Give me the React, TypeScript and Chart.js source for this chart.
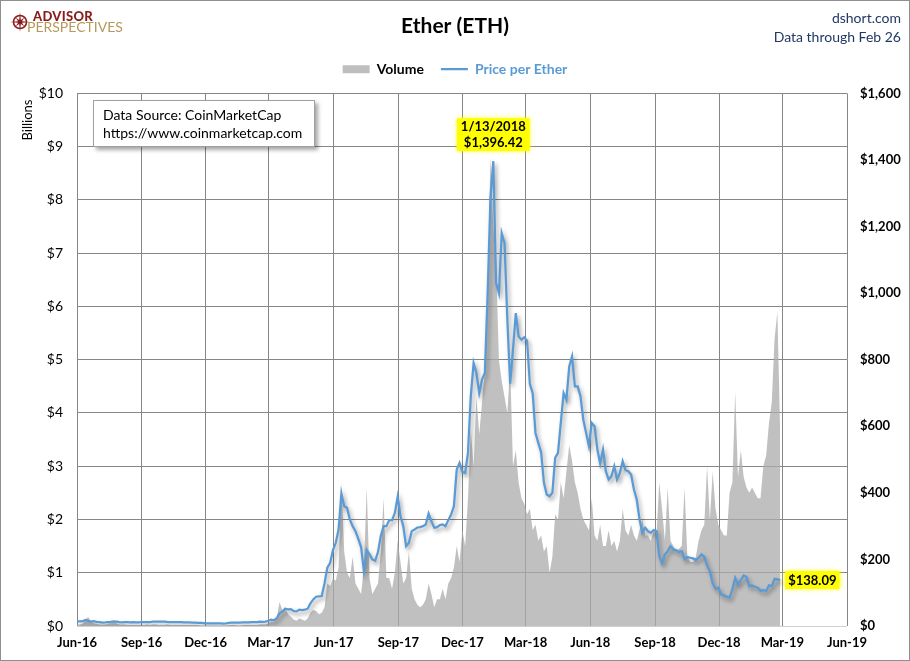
import React, { useEffect, useRef } from "react";
import { Chart, registerables } from "chart.js";

Chart.register(...registerables);

const FONT = "Lato, 'Open Sans', 'DejaVu Sans', sans-serif";

// ---- data -------------------------------------------------------------
const START_DATE = "2016-06-01";
const SAMPLE_STEP_DAYS = 4;

const xTickLabels = [
  "Jun-16", "Sep-16", "Dec-16", "Mar-17", "Jun-17", "Sep-17", "Dec-17",
  "Mar-18", "Jun-18", "Sep-18", "Dec-18", "Mar-19", "Jun-19",
];

const volumeAxisMax = 10; // billions
const volumeAxisStep = 1;
const priceAxisMax = 1600;
const priceAxisStep = 200;

// Price per Ether (USD), one reading every 4 days from Jun 1 2016 to Feb 26 2019
const priceValues = [
  14.0, 13.9, 14.5, 18.5, 15.5, 13.0, 14.5, 12.6, 11.6, 10.4,
  10.6, 11.8, 12.5, 14.0, 12.9, 11.4, 10.9, 11.8, 11.7, 11.2,
  11.3, 11.1, 11.0, 12.0, 11.8, 12.0, 12.0, 12.8, 13.1, 12.9,
  13.2, 13.3, 12.1, 11.8, 11.9, 12.0, 11.5, 11.5, 10.9, 11.2,
  10.9, 10.0, 10.0, 9.7, 9.2, 8.6, 7.6, 7.8, 8.2, 8.1,
  7.6, 7.6, 7.2, 8.2, 9.6, 10.0, 9.8, 9.8, 10.4, 10.8,
  10.6, 10.7, 11.3, 11.4, 11.4, 12.9, 12.6, 13.2, 15.7, 19.2,
  17.0, 23.4, 38, 43, 52, 50, 50.6, 45, 44, 48.9,
  47.9, 49, 52, 68, 80, 88, 89, 90, 128, 175,
  190, 228, 250, 290, 398, 360, 355, 320, 300, 285,
  262, 237, 165, 228, 215, 200, 196, 222, 270, 300,
  300, 318, 318, 340, 388, 330, 300, 240, 250, 285,
  290, 296, 297, 300, 305, 338, 315, 295, 297, 303,
  305, 300, 318, 335, 360, 470, 490, 463, 460, 520,
  690, 790, 760, 700, 740, 760, 1000, 1286, 1396.42, 1030,
  1000, 1180, 1150, 920, 728, 830, 940, 870, 860, 867,
  857, 727, 700, 580, 550, 522, 430, 395, 390, 400,
  505, 520, 610, 700, 680, 780, 810, 720, 720, 690,
  620, 580, 540, 610, 600, 530, 488, 530, 465, 440,
  450, 480, 440, 460, 495, 468, 465, 455, 410, 380,
  320, 280, 295, 285, 280, 288, 285, 210, 188, 215,
  225, 240, 230, 228, 222, 225, 200, 207, 205, 203,
  198, 205, 215, 208, 182, 165, 128, 112, 115, 95,
  92, 88, 86, 110, 145, 125, 138, 152, 148, 120,
  122, 118, 115, 106, 108, 105, 122, 120, 142, 140,
  138.09,
];

// Volume (USD billions), same sampling
const volumeValues = [
  0.03, 0.03, 0.04, 0.12, 0.17, 0.08, 0.05, 0.04, 0.03, 0.03,
  0.03, 0.04, 0.06, 0.08, 0.05, 0.03, 0.03, 0.03, 0.02, 0.02,
  0.02, 0.02, 0.02, 0.02, 0.02, 0.03, 0.02, 0.03, 0.03, 0.02,
  0.02, 0.02, 0.03, 0.02, 0.02, 0.02, 0.02, 0.02, 0.02, 0.02,
  0.02, 0.02, 0.02, 0.02, 0.01, 0.01, 0.01, 0.01, 0.01, 0.01,
  0.01, 0.01, 0.01, 0.01, 0.02, 0.02, 0.02, 0.01, 0.01, 0.02,
  0.02, 0.02, 0.02, 0.02, 0.02, 0.03, 0.03, 0.03, 0.05, 0.09,
  0.08, 0.15, 0.45, 0.30, 0.35, 0.22, 0.18, 0.12, 0.10, 0.14,
  0.12, 0.10, 0.14, 0.25, 0.30, 0.28, 0.22, 0.25, 0.35, 0.80,
  0.75, 0.90, 0.85, 1.1, 2.7, 1.4, 1.0, 0.9, 1.3, 0.8,
  0.7, 0.6, 1.1, 2.6, 0.9, 0.6, 0.7, 0.8, 1.4, 2.4,
  0.9, 0.9, 0.7, 1.0, 1.6, 1.2, 0.8, 0.9, 1.4, 0.7,
  0.5, 0.4, 0.35, 0.4, 0.5, 0.8, 0.6, 0.35, 0.5, 0.5,
  0.7, 0.5, 0.8, 0.9, 1.1, 1.5, 1.2, 1.8, 1.5, 2.4,
  3.7, 3.0, 4.3, 3.6, 4.2, 4.8, 6.2, 8.8, 7.5, 6.8,
  5.0, 4.6, 4.3, 4.0, 4.9, 3.0, 3.3, 2.7, 2.4, 2.3,
  2.1, 2.2, 1.8, 1.9, 1.6, 1.7, 1.4, 1.5, 1.0, 1.3,
  2.1, 2.0, 2.7, 2.4, 2.9, 3.4, 3.1, 2.7, 2.5, 2.2,
  2.0, 1.9, 1.8, 2.4, 1.7, 1.6, 1.9, 1.5, 1.5, 1.8,
  1.5, 1.6, 1.4, 1.6, 2.2, 1.8, 1.7, 1.9, 1.7, 1.6,
  1.8, 2.0, 1.7, 1.7, 1.6, 1.8, 1.7, 2.7, 2.2, 1.6,
  2.6, 1.6, 1.5, 1.4, 1.45, 1.5, 2.6, 1.3, 1.2, 1.2,
  1.3, 1.6, 1.8, 1.9, 3.0, 2.0, 2.9, 2.2, 1.9, 1.8,
  1.7, 1.7, 2.5, 2.7, 4.4, 2.8, 3.3, 2.8, 2.6, 2.5,
  2.6, 2.5, 2.4, 2.4, 3.0, 3.2, 3.8, 4.2, 5.4, 5.9,
  3.6,
];

const peakDateLabel = "1/13/2018";

// ---- styles -----------------------------------------------------------
const PRICE_COLOR = "#5b9bd5";
const VOLUME_FILL = "rgba(171,171,171,0.75)";
const VOLUME_LEGEND = "#bfbfbf";
const GRID_COLOR = "#868686";
const AXIS_LINE = "#d0d0d0";

const MONTH_INDEX: Record<string, number> = {
  Jan: 0, Feb: 1, Mar: 2, Apr: 3, May: 4, Jun: 5, Jul: 6, Aug: 7, Sep: 8, Oct: 9, Nov: 10, Dec: 11,
};
const DAY_MS = 86400000;
const startMs = Date.parse(START_DATE + "T00:00:00Z");
function labelToDay(label: string): number {
  const [m, yy] = label.split("-");
  return Math.round((Date.UTC(2000 + Number(yy), MONTH_INDEX[m], 1) - startMs) / DAY_MS);
}
const tickDays = xTickLabels.map(labelToDay);
const labelByDay: Record<number, string> = {};
tickDays.forEach((d, i) => (labelByDay[d] = xTickLabels[i]));

const fmtMoney = (v: number, digits = 0) =>
  "$" + v.toLocaleString("en-US", { minimumFractionDigits: digits, maximumFractionDigits: digits });

function drawHighlight(ctx: CanvasRenderingContext2D, x: number, y: number, w: number, h: number) {
  ctx.save();
  ctx.shadowColor = "rgba(255,255,0,0.9)";
  ctx.shadowBlur = 5;
  ctx.fillStyle = "#ffff00";
  ctx.fillRect(x, y, w, h);
  ctx.restore();
}

const lineShadowPlugin = {
  id: "lineShadow",
  beforeDatasetDraw(chart: any, args: any) {
    if (args.index === 0) {
      const c = chart.ctx;
      c.save();
      c.shadowColor = "rgba(0,0,0,0.38)";
      c.shadowBlur = 4;
      c.shadowOffsetX = 2;
      c.shadowOffsetY = 3;
    }
  },
  afterDatasetDraw(chart: any, args: any) {
    if (args.index === 0) chart.ctx.restore();
  },
};

const labelPlugin = {
  id: "priceLabels",
  afterDatasetsDraw(chart: any) {
    const { ctx, scales } = chart;
    const xs = scales.x;
    const yp = scales.yPrice;
    const peak = Math.max(...priceValues);
    const peakIdx = priceValues.indexOf(peak);
    const px = xs.getPixelForValue(peakIdx * SAMPLE_STEP_DAYS);
    const py = yp.getPixelForValue(peak);
    ctx.save();
    ctx.font = `bold 13px ${FONT}`;
    const lines = [peakDateLabel, fmtMoney(peak, 2)];
    const w = Math.max(...lines.map((t) => ctx.measureText(t).width)) + 8;
    drawHighlight(ctx, px - w / 2, py - 43, w, 33);
    ctx.fillStyle = "#000";
    ctx.textAlign = "center";
    ctx.textBaseline = "middle";
    ctx.fillText(lines[0], px, py - 34);
    ctx.fillText(lines[1], px, py - 18);

    const lastIdx = priceValues.length - 1;
    const last = priceValues[lastIdx];
    const lx = xs.getPixelForValue(lastIdx * SAMPLE_STEP_DAYS) + 5;
    const ly = yp.getPixelForValue(last);
    const lt = fmtMoney(last, 2);
    const lw = ctx.measureText(lt).width + 6;
    drawHighlight(ctx, lx, ly - 9, lw, 18);
    ctx.fillStyle = "#000";
    ctx.textAlign = "left";
    ctx.fillText(lt, lx + 3, ly + 1);
    ctx.restore();
  },
};

function Compass() {
  const pts: string[] = [];
  for (let k = 0; k < 16; k++) {
    const a = (k * Math.PI) / 8 - Math.PI / 2;
    const r = k % 4 === 0 ? 10 : k % 2 === 0 ? 6 : 2.2;
    pts.push(`${(10 + r * Math.cos(a)).toFixed(2)},${(10 + r * Math.sin(a)).toFixed(2)}`);
  }
  return (
    <svg width={20} height={20} viewBox="0 0 20 20" style={{ position: "absolute", left: 10, top: 12 }}>
      <circle cx={10} cy={10} r={6.5} fill="none" stroke="#8b1c1c" strokeWidth={1.6} />
      <polygon points={pts.join(" ")} fill="#8b1c1c" />
    </svg>
  );
}

export default function App() {
  const canvasRef = useRef<HTMLCanvasElement | null>(null);

  useEffect(() => {
    if (!canvasRef.current) return;
    Chart.defaults.font.family = FONT;
    const priceData = priceValues.map((v, i) => ({ x: i * SAMPLE_STEP_DAYS, y: v }));
    const volumeData = volumeValues.map((v, i) => ({ x: i * SAMPLE_STEP_DAYS, y: v }));

    const chart = new Chart(canvasRef.current, {
      type: "line",
      data: {
        datasets: [
          {
            label: "Price per Ether",
            data: priceData,
            yAxisID: "yPrice",
            borderColor: PRICE_COLOR,
            borderWidth: 2.25,
            pointRadius: 0,
            fill: false,
            tension: 0,
          },
          {
            label: "Volume",
            data: volumeData,
            yAxisID: "yVol",
            borderColor: "rgba(0,0,0,0)",
            borderWidth: 0,
            backgroundColor: VOLUME_FILL,
            pointRadius: 0,
            fill: "origin",
            tension: 0,
          },
        ],
      },
      options: {
        animation: false,
        responsive: false,
        maintainAspectRatio: false,
        layout: { padding: 0 },
        plugins: {
          tooltip: { enabled: false },
          title: {
            display: true,
            text: "Ether (ETH)",
            color: "#000",
            font: { family: FONT, size: 21, weight: "bold" },
            padding: { top: 14, bottom: 6 },
          },
          // empty spacer box between the legend and the plot area
          subtitle: {
            display: true,
            text: "",
            weight: 500,
            font: { family: FONT, size: 1 },
            padding: { top: 6, bottom: 0 },
          },
          legend: {
            display: true,
            position: "top",
            labels: {
              usePointStyle: true,
              pointStyleWidth: 27,
              boxHeight: 8,
              padding: 17,
              font: { family: FONT, size: 14, weight: "bold" },
              generateLabels: () => [
                {
                  text: "Volume",
                  fillStyle: VOLUME_LEGEND,
                  strokeStyle: VOLUME_LEGEND,
                  lineWidth: 0,
                  pointStyle: "rect",
                  fontColor: "#000",
                  hidden: false,
                  datasetIndex: 1,
                } as any,
                {
                  text: "Price per Ether",
                  fillStyle: PRICE_COLOR,
                  strokeStyle: PRICE_COLOR,
                  lineWidth: 2.25,
                  pointStyle: "line",
                  fontColor: PRICE_COLOR,
                  hidden: false,
                  datasetIndex: 0,
                } as any,
              ],
            },
          },
        },
        scales: {
          x: {
            type: "linear",
            min: 0,
            max: tickDays[tickDays.length - 1],
            afterBuildTicks: (s: any) => {
              s.ticks = tickDays.map((v) => ({ value: v }));
            },
            afterFit: (s: any) => {
              s.height = 35;
            },
            grid: { color: GRID_COLOR, lineWidth: 1, drawTicks: false },
            border: { display: false },
            ticks: {
              autoSkip: false,
              maxRotation: 0,
              padding: 9,
              color: "#000",
              font: { family: FONT, size: 13, weight: "bold" },
              callback: (v: any) => labelByDay[Math.round(Number(v))] ?? "",
            },
          },
          yVol: {
            type: "linear",
            position: "left",
            min: 0,
            max: volumeAxisMax,
            afterFit: (s: any) => {
              s.width = 77;
            },
            grid: {
              color: (c: any) => (c.tick && c.tick.value === 0 ? AXIS_LINE : GRID_COLOR),
              lineWidth: 1,
              drawTicks: false,
            },
            border: { display: false },
            ticks: {
              stepSize: volumeAxisStep,
              padding: 14,
              color: "#000",
              font: { family: FONT, size: 14 },
              callback: (v: any) => "$" + v,
            },
          },
          yPrice: {
            type: "linear",
            position: "right",
            min: 0,
            max: priceAxisMax,
            afterFit: (s: any) => {
              s.width = 63;
            },
            grid: { drawOnChartArea: false, drawTicks: false },
            border: { display: false },
            ticks: {
              stepSize: priceAxisStep,
              padding: 13,
              color: "#000",
              font: { family: FONT, size: 13, weight: "bold" },
              callback: (v: any) => fmtMoney(Number(v)),
            },
          },
        },
      },
      plugins: [lineShadowPlugin, labelPlugin],
    } as any);

    return () => chart.destroy();
  }, []);

  return (
    <div
      style={{
        position: "absolute",
        left: 0,
        top: 0,
        width: 910,
        height: 661,
        background: "#fff",
        fontFamily: FONT,
        overflow: "hidden",
      }}
    >
      <canvas ref={canvasRef} width={910} height={661} style={{ display: "block" }} />
      <div
        style={{
          position: "absolute",
          inset: 0,
          border: "1px solid #8f8f8f",
          boxSizing: "border-box",
          pointerEvents: "none",
        }}
      />
      <Compass />
      <div style={{ position: "absolute", left: 33, top: 10, fontSize: 13, lineHeight: "13px", fontWeight: 900, color: "#8b1c1c", letterSpacing: 0.3 }}>
        ADVISOR
      </div>
      <div style={{ position: "absolute", left: 27, top: 20, fontSize: 14, lineHeight: "14px", color: "#b5985a" }}>
        PERSPECTIVES
      </div>
      <div style={{ position: "absolute", right: 9, top: 7.5, fontSize: 14, lineHeight: "19.5px", color: "#203864", textAlign: "right" }}>
        dshort.com
        <br />
        Data through Feb 26
      </div>
      <div
        style={{
          position: "absolute",
          left: 26.5,
          top: 119.5,
          transform: "translate(-50%, -50%) rotate(-90deg)",
          fontSize: 13,
          color: "#000",
          whiteSpace: "nowrap",
        }}
      >
        Billions
      </div>
      <div
        style={{
          position: "absolute",
          left: 93,
          top: 100,
          width: 222,
          height: 47,
          boxSizing: "border-box",
          border: "1px solid #a0a0a0",
          background: "#fff",
          boxShadow: "3px 3px 4px rgba(0,0,0,0.35)",
          padding: "5px 0 0 9px",
          fontSize: 14,
          lineHeight: "18px",
          color: "#000",
        }}
      >
        Data Source: CoinMarketCap
        <br />
        https://www.coinmarketcap.com
      </div>
    </div>
  );
}
